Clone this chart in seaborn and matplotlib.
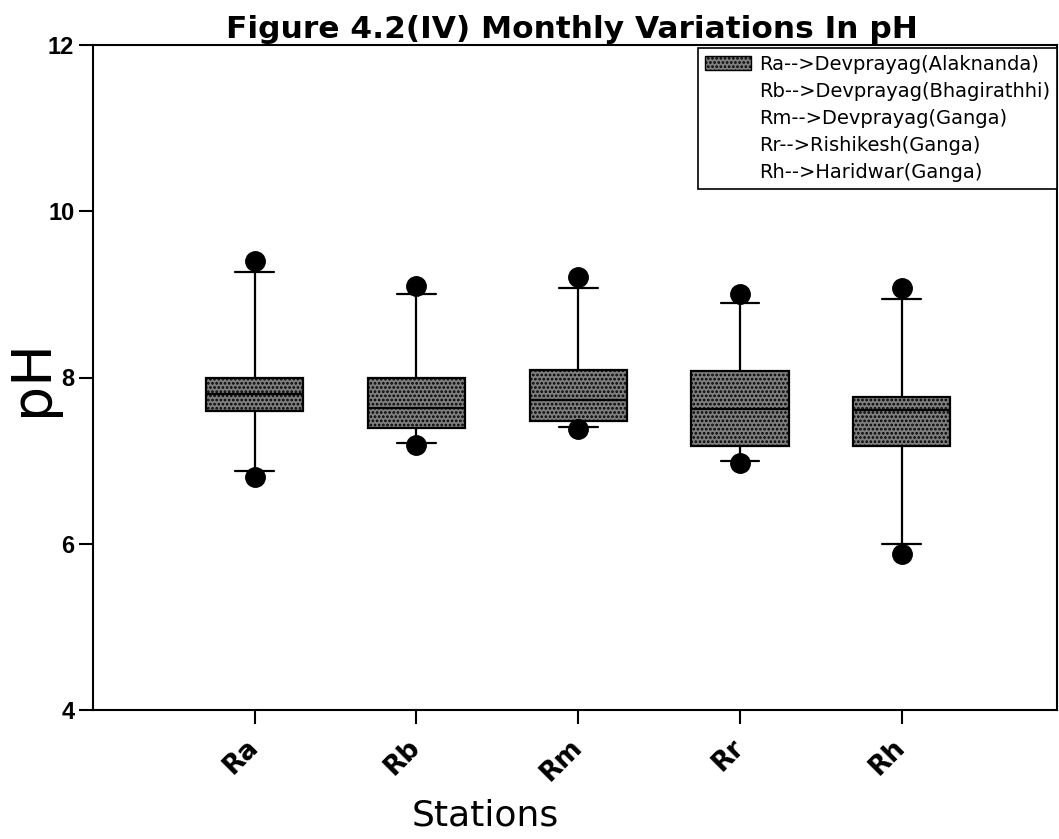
import matplotlib
matplotlib.use("Agg")
import matplotlib.pyplot as plt
import seaborn as sns
from matplotlib.patches import Patch

sns.set_style("ticks")
plt.rcParams['font.family'] = ['DejaVu Sans']
plt.rcParams['hatch.linewidth'] = 1.3
plt.rcParams['text.color'] = 'black'
plt.rcParams['axes.labelcolor'] = 'black'
plt.rcParams['xtick.color'] = 'black'
plt.rcParams['ytick.color'] = 'black'

stations = ["Ra", "Rb", "Rm", "Rr", "Rh"]
whisker_low = [6.88, 7.21, 7.41, 7.00, 6.00]
q1 = [7.60, 7.39, 7.48, 7.18, 7.17]
median = [7.80, 7.63, 7.73, 7.62, 7.61]
q3 = [8.00, 7.99, 8.09, 8.08, 7.77]
whisker_high = [9.27, 9.00, 9.08, 8.90, 8.95]
point_low = [6.80, 7.19, 7.38, 6.97, 5.88]
point_high = [9.40, 9.10, 9.21, 9.01, 9.08]
legend_labels = ["Ra-->Devprayag(Alaknanda)", "Rb-->Devprayag(Bhagirathhi)",
                 "Rm-->Devprayag(Ganga)", "Rr-->Rishikesh(Ganga)", "Rh-->Haridwar(Ganga)"]
y_ticks = [4, 6, 8, 10, 12]

fig = plt.figure(figsize=(10.59, 8.39), dpi=100)
ax = fig.add_axes([93/1059, 1-710/839, (1057-93)/1059, (710-45)/839])

stats = []
for i, s in enumerate(stations):
    stats.append(dict(label=s, whislo=whisker_low[i], q1=q1[i], med=median[i],
                      q3=q3[i], whishi=whisker_high[i],
                      fliers=[point_low[i], point_high[i]]))

face = "#7f7f7f"
bp = ax.bxp(stats, positions=range(len(stations)), widths=0.6, patch_artist=True,
            capwidths=0.24,
            boxprops=dict(facecolor=face, edgecolor="black", linewidth=1.6, hatch="...."),
            medianprops=dict(color="black", linewidth=1.6),
            whiskerprops=dict(color="black", linewidth=1.6),
            capprops=dict(color="black", linewidth=1.6),
            flierprops=dict(marker="o", markerfacecolor="black", markeredgecolor="black",
                            markersize=14, linestyle="none"))

ax.set_xlim(-1.0, 4.96)
ax.set_ylim(4, 12)
ax.set_yticks(y_ticks)
ax.set_yticklabels([str(t) for t in y_ticks], fontsize=17, fontweight="bold",
                   family="Liberation Sans")
ax.set_xticks(range(len(stations)))
ax.set_xticklabels(stations, fontsize=19, fontweight="bold", rotation=45,
                   ha="right", va="center", rotation_mode="anchor")
ax.tick_params(axis="both", direction="out", length=10, width=1.5, color="black")
ax.tick_params(axis="x", pad=14)
for sp in ax.spines.values():
    sp.set_color("black")
    sp.set_linewidth(1.5)

handles = [Patch(facecolor=face, edgecolor="black", hatch="....", linewidth=1.0)]
handles += [Patch(facecolor="none", edgecolor="none") for _ in legend_labels[1:]]
leg = ax.legend(handles, legend_labels, loc="upper right",
                bbox_to_anchor=(1057/1059, 1-48/839), bbox_transform=fig.transFigure,
                fontsize=14, frameon=True, fancybox=False, framealpha=1,
                edgecolor="black", borderpad=0.35, labelspacing=0.42,
                handlelength=2.4, handletextpad=0.4, borderaxespad=0)
leg.get_frame().set_linewidth(1.2)

fig.text(572/1059, 1-30/839, "Figure 4.2(IV) Monthly Variations In pH",
         ha="center", va="center", fontsize=22.5, fontweight="bold")
fig.text(32/1059, 1-378/839, "pH", rotation=90, ha="center", va="center", fontsize=40)
fig.text(485/1059, 1-815/839, "Stations", ha="center", va="center", fontsize=26)

fig.savefig("out.png", dpi=100, facecolor="white")
